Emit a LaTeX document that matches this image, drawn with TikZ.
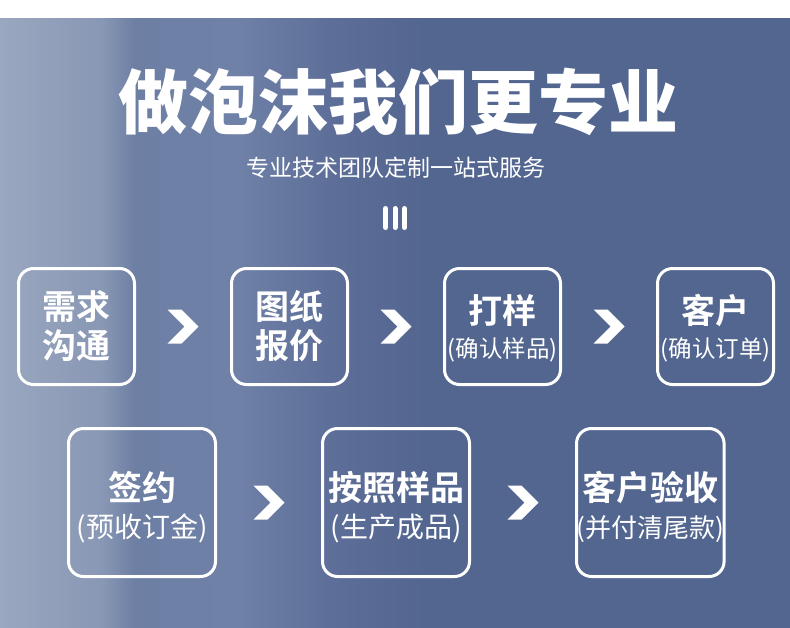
\documentclass[tikz,border=0pt]{standalone}
\usepackage{fontspec}
\setmainfont{Noto Sans CJK SC}[BoldFont={* Bold}]
\newfontfamily\heavyfont{Noto Sans CJK SC Black}
\usetikzlibrary{positioning, calc}

\definecolor{bgA}{HTML}{9AA7C0}
\definecolor{bgB}{HTML}{8897B4}
\definecolor{bgC}{HTML}{6E7FA4}
\definecolor{bgD}{HTML}{6F81A7}
\definecolor{bgE}{HTML}{5D6E98}
\definecolor{bgF}{HTML}{536690}
\pgfdeclarehorizontalshading{bgshade}{100bp}{color(0bp)=(bgA); color(25bp)=(bgA); color(31.5bp)=(bgB); color(33.5bp)=(bgC); color(40bp)=(bgD); color(46bp)=(bgE); color(52bp)=(bgF); color(75bp)=(bgF); color(100bp)=(bgF)}

% bold first line of a step box, with a strut to set its height
\newcommand{\steptitle}[2][0pt]{{\fontsize{34}{34}\selectfont\bfseries\rule{0pt}{#1}#2}}

\begin{document}
\begin{tikzpicture}[
    x=1pt, y=-1pt,
    stepbox/.style={draw=white, line width=3pt, rounded corners=15pt, align=center, text=white, inner sep=0pt},
    smallbox/.style={stepbox, minimum width=116pt, minimum height=116pt},
    bigbox/.style={stepbox, minimum width=147pt, minimum height=148pt},
    two/.style={font=\fontsize{34}{39}\selectfont\bfseries},
    subA/.style={font=\fontsize{23.5}{34}\selectfont},
    subB/.style={font=\fontsize{28}{37}\selectfont},
    subC/.style={font=\fontsize{26}{37}\selectfont},
    chev/.pic={\fill[white] (-15.5,-17) -- (-1.5,-17) -- (15.5,0) -- (-1.5,17) -- (-15.5,17) -- (1.5,0) -- cycle;}
]
\useasboundingbox (0,0) rectangle (790,627);
\fill[white] (0,0) rectangle (790,18);
\shade[shading=bgshade] (0,18) rectangle (790,627);

% HEADER
\node[text=white, font=\fontsize{70}{84}\heavyfont] (title) at (398,102) {做泡沫我们更专业};
\node[text=white, font=\fontsize{23}{28}\selectfont] (slogan) at (396,168) {专业技术团队定制一站式服务};
\foreach \x in {385.5,395,404.5}
    \draw[white, line width=5pt, line cap=round] (\x,208.5) -- (\x,227.5);

% FIRST ROW
\node[smallbox, two] (s1) at (76.5,326.5) {需求\\沟通};
\node[smallbox, two, right=94pt of s1] (s2) {图纸\\报价};
\node[smallbox, subA, right=94pt of s2] (s3) {\steptitle[32pt]{打样}\\(确认样品)};
\node[smallbox, subA, right=94pt of s3] (s4) {\steptitle[32pt]{客户}\\(确认订单)};

% SECOND ROW
\node[bigbox, subB] (s5) at (142,502.5) {\steptitle[39pt]{签约}\\(预收订金)};
\node[bigbox, subB, right=104pt of s5] (s6) {\steptitle[39pt]{按照样品}\\(生产成品)};
\node[bigbox, subC, right=104pt of s6] (s7) {\steptitle[39pt]{客户验收}\\(并付清尾款)};

% ARROWS
\foreach \a/\b in {s1/s2, s2/s3, s3/s4, s5/s6, s6/s7}
    \pic at ($(\a.east)!0.5!(\b.west)$) {chev};
\end{tikzpicture}
\end{document}
